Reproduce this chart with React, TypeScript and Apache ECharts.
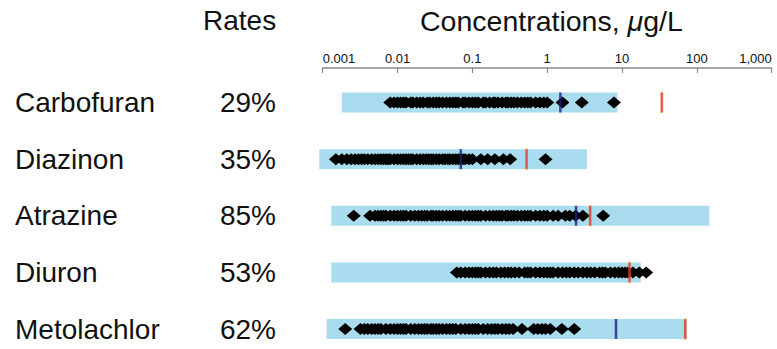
import React, { useEffect, useRef } from "react";
import * as echarts from "echarts";

const names = ["Carbofuran", "Diazinon", "Atrazine", "Diuron", "Metolachlor"];
const rates = ["29%", "35%", "85%", "53%", "62%"];
const tickLabels = ["0.001", "0.01", "0.1", "1", "10", "100", "1,000"];

// light-blue range bars [start, end], µg/L
const rangeStart = [0.0018, 0.0009, 0.0013, 0.0013, 0.00113];
const rangeEnd = [8.7, 3.4, 147, 17.8, 73.5];

// dark blue and red reference lines
const blueLines: (number | null)[] = [1.5, 0.07, 2.43, null, 8.3];
const redLines = [34, 0.53, 3.75, 12.6, 70];

// detections per compound
const carbofuran = [
  0.008, 0.009, 0.01, 0.011, 0.012, 0.013, 0.015, 0.016, 0.018, 0.02, 0.022, 0.025, 0.027, 0.03,
  0.033, 0.036, 0.04, 0.045, 0.05, 0.055, 0.06, 0.065, 0.075, 0.08, 0.09, 0.1, 0.11, 0.12, 0.14,
  0.15, 0.17, 0.19, 0.2, 0.22, 0.25, 0.28, 0.3, 0.33, 0.36, 0.4, 0.45, 0.5, 0.55, 0.6, 0.7, 0.8,
  0.9, 1.0, 1.6, 2.9, 7.8,
];
const diazinon = [
  0.0015, 0.0018, 0.0021, 0.0024, 0.0027, 0.003, 0.0033, 0.0036, 0.004, 0.0045, 0.005, 0.0055,
  0.006, 0.0065, 0.007, 0.0075, 0.008, 0.009, 0.01, 0.011, 0.012, 0.013, 0.014, 0.015, 0.016,
  0.018, 0.02, 0.022, 0.024, 0.026, 0.028, 0.03, 0.033, 0.036, 0.04, 0.043, 0.047, 0.05, 0.055,
  0.06, 0.065, 0.07, 0.075, 0.08, 0.09, 0.1, 0.13, 0.16, 0.2, 0.26, 0.32, 0.95,
];
const atrazine = [
  0.0026, 0.0043, 0.005, 0.0055, 0.006, 0.0065, 0.007, 0.008, 0.009, 0.01, 0.011, 0.012, 0.013,
  0.015, 0.017, 0.019, 0.021, 0.023, 0.025, 0.028, 0.03, 0.033, 0.036, 0.04, 0.045, 0.05, 0.055,
  0.06, 0.065, 0.07, 0.08, 0.09, 0.1, 0.11, 0.12, 0.13, 0.15, 0.17, 0.19, 0.21, 0.23, 0.25, 0.28,
  0.3, 0.33, 0.36, 0.4, 0.45, 0.5, 0.55, 0.6, 0.7, 0.8, 0.9, 1.0, 1.2, 1.4, 1.75, 2.0, 2.4, 3.0,
  5.6,
];
const diuron = [
  0.062, 0.07, 0.08, 0.09, 0.1, 0.11, 0.12, 0.13, 0.15, 0.17, 0.19, 0.21, 0.24, 0.27, 0.3, 0.33,
  0.37, 0.42, 0.5, 0.55, 0.6, 0.7, 0.8, 0.9, 1.0, 1.1, 1.2, 1.4, 1.6, 1.8, 2.0, 2.3, 2.6, 3.0, 3.4,
  3.8, 4.3, 5, 5.5, 6, 7, 8, 9, 10, 11, 12, 14, 17, 21,
];
const metolachlor = [
  0.002, 0.0032, 0.0036, 0.004, 0.0045, 0.005, 0.0055, 0.006, 0.007, 0.008, 0.009, 0.01, 0.011,
  0.012, 0.013, 0.015, 0.017, 0.019, 0.021, 0.023, 0.025, 0.028, 0.03, 0.033, 0.036, 0.04, 0.045,
  0.05, 0.055, 0.06, 0.07, 0.08, 0.09, 0.1, 0.11, 0.12, 0.14, 0.16, 0.18, 0.2, 0.22, 0.25, 0.28,
  0.31, 0.35, 0.46, 0.66, 0.75, 0.85, 0.95, 1.1, 1.57, 2.3,
];
const detections = [carbofuran, diazinon, atrazine, diuron, metolachlor];

const FONT = '"Liberation Sans", Arial, sans-serif';

export default function App() {
  const ref = useRef<HTMLDivElement>(null);
  useEffect(() => {
    if (!ref.current) return;
    const chart = echarts.init(ref.current, null, { renderer: "svg" });

    const rowData = names.map((n, i) => [i, rangeStart[i], rangeEnd[i]]);
    const pts: number[][] = [];
    detections.forEach((arr, i) => arr.forEach((v) => pts.push([v, i])));
    const blue = blueLines
      .map((v, i) => (v == null ? null : [v, i]))
      .filter((d) => d !== null);
    const red = redLines.map((v, i) => [v, i]);

    chart.setOption({
      animation: false,
      backgroundColor: "#ffffff",
      grid: { left: 322.7, width: 449, top: 68, height: 278 },
      xAxis: {
        type: "log",
        logBase: 10,
        min: 0.001,
        max: 1000,
        position: "top",
        axisLine: { show: true, onZero: false, lineStyle: { color: "#8a8a8a", width: 1.5 } },
        axisTick: { show: true, inside: true, length: 5, lineStyle: { color: "#8a8a8a", width: 1.2 } },
        minorTick: { show: false },
        splitLine: { show: false },
        axisLabel: {
          margin: 3,
          fontSize: 13,
          fontFamily: FONT,
          color: "#111",
          alignMinLabel: "left",
          alignMaxLabel: "right",
          formatter: (v: number) => {
            const idx = Math.round(Math.log10(v)) + 3;
            return tickLabels[idx] ?? "";
          },
        },
      },
      yAxis: {
        type: "value",
        inverse: true,
        min: -0.61,
        max: 4.3,
        show: false,
      },
      graphic: [
        {
          type: "text",
          left: 203,
          top: 6,
          style: { text: "Rates", font: `28px ${FONT}`, fill: "#111" },
        },
        {
          type: "text",
          left: 420,
          top: 6,
          style: {
            text: "{a|Concentrations, }{b|μ}{a|g/L}",
            fill: "#111",
            rich: {
              a: { fontSize: 28.5, fontFamily: FONT, fill: "#111" },
              b: { fontSize: 28.5, fontFamily: FONT, fontStyle: "italic", fill: "#111" },
            },
          },
        },
      ],
      series: [
        {
          type: "custom",
          z: 1,
          data: rowData,
          encode: { x: [1, 2], y: 0 },
          renderItem: (params: any, api: any) => {
            const i = api.value(0);
            const p0 = api.coord([api.value(1), i]);
            const p1 = api.coord([api.value(2), i]);
            const h = 20;
            return {
              type: "group",
              children: [
                {
                  type: "rect",
                  shape: { x: p0[0], y: p0[1] - h / 2, width: p1[0] - p0[0], height: h },
                  style: { fill: "#a9dcef" },
                },
                {
                  type: "text",
                  x: 15,
                  y: p0[1],
                  style: {
                    text: names[i],
                    font: `28px ${FONT}`,
                    fill: "#111",
                    textAlign: "left",
                    textVerticalAlign: "middle",
                  },
                },
                {
                  type: "text",
                  x: 276,
                  y: p0[1],
                  style: {
                    text: rates[i],
                    font: `28px ${FONT}`,
                    fill: "#111",
                    textAlign: "right",
                    textVerticalAlign: "middle",
                  },
                },
              ],
            };
          },
        },
        {
          type: "scatter",
          z: 2,
          symbol: "diamond",
          symbolSize: [14, 12],
          itemStyle: { color: "#000000", opacity: 1 },
          data: pts,
        },
        {
          type: "scatter",
          z: 3,
          symbol: "rect",
          symbolSize: [2.5, 20],
          itemStyle: { color: "#1e1e7e" },
          data: blue,
        },
        {
          type: "scatter",
          z: 4,
          symbol: "rect",
          symbolSize: [2.5, 20],
          itemStyle: { color: "#e2322a", borderColor: "#f0a030", borderWidth: 0.4 },
          data: red,
        },
      ],
    });
    return () => chart.dispose();
  }, []);
  return (
    <div
      ref={ref}
      style={{ position: "fixed", left: 0, top: 0, width: 777, height: 349 }}
    />
  );
}
